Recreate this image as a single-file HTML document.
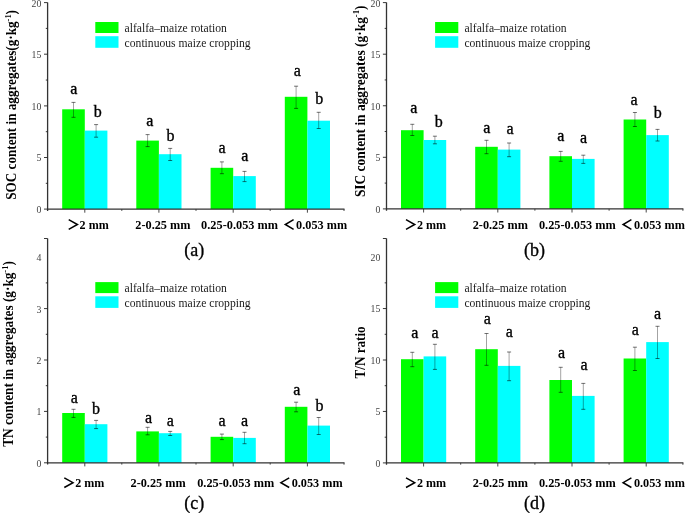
<!DOCTYPE html><html><head><meta charset="utf-8"><style>html,body{margin:0;padding:0;background:#fff;width:685px;height:513px;overflow:hidden}svg{display:block;will-change:transform}text{font-family:"Liberation Serif",serif}</style></head><body>
<svg width="685" height="513" viewBox="0 0 685 513">
<rect width="685" height="513" fill="#fff"/>
<rect x="62.2" y="109.3" width="22.6" height="99.8" fill="#00ff00"/>
<rect x="84.8" y="130.6" width="22.6" height="78.5" fill="#00ffff"/>
<rect x="136.3" y="140.6" width="22.6" height="68.5" fill="#00ff00"/>
<rect x="158.9" y="154.2" width="22.6" height="54.9" fill="#00ffff"/>
<rect x="210.6" y="167.8" width="22.6" height="41.3" fill="#00ff00"/>
<rect x="233.2" y="176.1" width="22.6" height="33" fill="#00ffff"/>
<rect x="284.8" y="96.8" width="22.6" height="112.3" fill="#00ff00"/>
<rect x="307.4" y="120.7" width="22.6" height="88.4" fill="#00ffff"/>
<path d="M73.5 102.4V117.3" stroke="#000" stroke-opacity="0.36" stroke-width="1" fill="none"/><path d="M71.5 102.4H75.5M71.5 117.3H75.5" stroke="#000" stroke-opacity="0.55" stroke-width="1" fill="none"/>
<path d="M96.1 124.6V137.2" stroke="#000" stroke-opacity="0.36" stroke-width="1" fill="none"/><path d="M94.1 124.6H98.1M94.1 137.2H98.1" stroke="#000" stroke-opacity="0.55" stroke-width="1" fill="none"/>
<path d="M147.6 134.6V146.6" stroke="#000" stroke-opacity="0.36" stroke-width="1" fill="none"/><path d="M145.6 134.6H149.6M145.6 146.6H149.6" stroke="#000" stroke-opacity="0.55" stroke-width="1" fill="none"/>
<path d="M170.2 148.4V160.5" stroke="#000" stroke-opacity="0.36" stroke-width="1" fill="none"/><path d="M168.2 148.4H172.2M168.2 160.5H172.2" stroke="#000" stroke-opacity="0.55" stroke-width="1" fill="none"/>
<path d="M221.9 161.9V173.7" stroke="#000" stroke-opacity="0.36" stroke-width="1" fill="none"/><path d="M219.9 161.9H223.9M219.9 173.7H223.9" stroke="#000" stroke-opacity="0.55" stroke-width="1" fill="none"/>
<path d="M244.5 171.4V181.6" stroke="#000" stroke-opacity="0.36" stroke-width="1" fill="none"/><path d="M242.5 171.4H246.5M242.5 181.6H246.5" stroke="#000" stroke-opacity="0.55" stroke-width="1" fill="none"/>
<path d="M296.1 86.2V108.4" stroke="#000" stroke-opacity="0.36" stroke-width="1" fill="none"/><path d="M294.1 86.2H298.1M294.1 108.4H298.1" stroke="#000" stroke-opacity="0.55" stroke-width="1" fill="none"/>
<path d="M318.7 112.3V128.5" stroke="#000" stroke-opacity="0.36" stroke-width="1" fill="none"/><path d="M316.7 112.3H320.7M316.7 128.5H320.7" stroke="#000" stroke-opacity="0.55" stroke-width="1" fill="none"/>
<path d="M47.6 2.6V210.9M46.9 209.1H344.5" stroke="#333" stroke-width="1.3" fill="none"/>
<path d="M44 2.6H47.6M44 54.2H47.6M44 105.9H47.6M44 157.5H47.6M44 209.1H47.6M45.8 28.4H47.6M45.8 80.05H47.6M45.8 131.7H47.6M45.8 183.3H47.6" stroke="#222" stroke-width="0.9" fill="none"/>
<path d="M84.8 209.1V212.7M158.9 209.1V212.7M233.2 209.1V212.7M307.4 209.1V212.7M121.8 209.1V210.9M196 209.1V210.9M270.2 209.1V210.9M344 209.1V211" stroke="#333" stroke-width="0.9" fill="none"/>
<text x="41.4" y="6.5" font-size="9.8" fill="#444" text-anchor="end">20</text>
<text x="41.4" y="58.1" font-size="9.8" fill="#444" text-anchor="end">15</text>
<text x="41.4" y="109.8" font-size="9.8" fill="#444" text-anchor="end">10</text>
<text x="41.4" y="161.4" font-size="9.8" fill="#444" text-anchor="end">5</text>
<text x="41.4" y="213" font-size="9.8" fill="#444" text-anchor="end">0</text>
<text x="73.85" y="93.6" font-size="16" fill="#000" stroke="#000" stroke-width="0.35" text-anchor="middle">a</text>
<text x="97.8" y="117.4" font-size="16" fill="#000" stroke="#000" stroke-width="0.35" text-anchor="middle">b</text>
<text x="149.8" y="126" font-size="16" fill="#000" stroke="#000" stroke-width="0.35" text-anchor="middle">a</text>
<text x="170.6" y="140.6" font-size="16" fill="#000" stroke="#000" stroke-width="0.35" text-anchor="middle">b</text>
<text x="221.95" y="152.8" font-size="16" fill="#000" stroke="#000" stroke-width="0.35" text-anchor="middle">a</text>
<text x="244.8" y="160.7" font-size="16" fill="#000" stroke="#000" stroke-width="0.35" text-anchor="middle">a</text>
<text x="297.2" y="75.7" font-size="16" fill="#000" stroke="#000" stroke-width="0.35" text-anchor="middle">a</text>
<text x="319.35" y="104" font-size="16" fill="#000" stroke="#000" stroke-width="0.35" text-anchor="middle">b</text>
<rect x="95.3" y="22" width="23.2" height="11" fill="#00ff00"/>
<rect x="95.3" y="36.2" width="23.2" height="11.6" fill="#00ffff"/>
<text x="124.6" y="32.1" font-size="11.6" fill="#1a1a1a" textLength="102.2" lengthAdjust="spacingAndGlyphs">alfalfa–maize rotation</text>
<text x="124.6" y="46.5" font-size="11.6" fill="#1a1a1a" textLength="126" lengthAdjust="spacingAndGlyphs">continuous maize cropping</text>
<path d="M68.7 219.7L77.4 224.5L68.7 229.3" stroke="#000" stroke-width="1.5" fill="none"/>
<text x="79.6" y="229" font-size="12" font-weight="bold" fill="#000" textLength="29.2" lengthAdjust="spacingAndGlyphs">2 mm</text>
<text x="135.3" y="229" font-size="12" font-weight="bold" fill="#000" textLength="55.2" lengthAdjust="spacingAndGlyphs">2-0.25 mm</text>
<text x="201.1" y="229" font-size="12" font-weight="bold" fill="#000" textLength="77" lengthAdjust="spacingAndGlyphs">0.25-0.053 mm</text>
<path d="M293.6 219.7L285.3 224.5L293.6 229.3" stroke="#000" stroke-width="1.5" fill="none"/>
<text x="296.1" y="229" font-size="12" font-weight="bold" fill="#000" textLength="51" lengthAdjust="spacingAndGlyphs">0.053 mm</text>
<text x="194.3" y="255.6" font-size="18" fill="#000" stroke="#000" stroke-width="0.3" text-anchor="middle">(a)</text>
<rect x="401" y="130.2" width="22.6" height="78.7" fill="#00ff00"/>
<rect x="423.6" y="140" width="22.6" height="68.9" fill="#00ffff"/>
<rect x="475.2" y="146.8" width="22.6" height="62.1" fill="#00ff00"/>
<rect x="497.8" y="149.6" width="22.6" height="59.3" fill="#00ffff"/>
<rect x="549.4" y="156.2" width="22.6" height="52.7" fill="#00ff00"/>
<rect x="572" y="158.9" width="22.6" height="50" fill="#00ffff"/>
<rect x="623.6" y="119.5" width="22.6" height="89.4" fill="#00ff00"/>
<rect x="646.2" y="135.1" width="22.6" height="73.8" fill="#00ffff"/>
<path d="M412.3 124.3V135.5" stroke="#000" stroke-opacity="0.36" stroke-width="1" fill="none"/><path d="M410.3 124.3H414.3M410.3 135.5H414.3" stroke="#000" stroke-opacity="0.55" stroke-width="1" fill="none"/>
<path d="M434.9 136.2V143.8" stroke="#000" stroke-opacity="0.36" stroke-width="1" fill="none"/><path d="M432.9 136.2H436.9M432.9 143.8H436.9" stroke="#000" stroke-opacity="0.55" stroke-width="1" fill="none"/>
<path d="M486.5 140.3V153.7" stroke="#000" stroke-opacity="0.36" stroke-width="1" fill="none"/><path d="M484.5 140.3H488.5M484.5 153.7H488.5" stroke="#000" stroke-opacity="0.55" stroke-width="1" fill="none"/>
<path d="M509.1 143V156.7" stroke="#000" stroke-opacity="0.36" stroke-width="1" fill="none"/><path d="M507.1 143H511.1M507.1 156.7H511.1" stroke="#000" stroke-opacity="0.55" stroke-width="1" fill="none"/>
<path d="M560.7 151.4V161.3" stroke="#000" stroke-opacity="0.36" stroke-width="1" fill="none"/><path d="M558.7 151.4H562.7M558.7 161.3H562.7" stroke="#000" stroke-opacity="0.55" stroke-width="1" fill="none"/>
<path d="M583.3 155.2V163.4" stroke="#000" stroke-opacity="0.36" stroke-width="1" fill="none"/><path d="M581.3 155.2H585.3M581.3 163.4H585.3" stroke="#000" stroke-opacity="0.55" stroke-width="1" fill="none"/>
<path d="M634.9 112.5V126.5" stroke="#000" stroke-opacity="0.36" stroke-width="1" fill="none"/><path d="M632.9 112.5H636.9M632.9 126.5H636.9" stroke="#000" stroke-opacity="0.55" stroke-width="1" fill="none"/>
<path d="M657.5 129.4V141" stroke="#000" stroke-opacity="0.36" stroke-width="1" fill="none"/><path d="M655.5 129.4H659.5M655.5 141H659.5" stroke="#000" stroke-opacity="0.55" stroke-width="1" fill="none"/>
<path d="M386.5 2.6V210.7M385.8 208.9H683.4" stroke="#333" stroke-width="1.3" fill="none"/>
<path d="M382.9 2.6H386.5M382.9 54.2H386.5M382.9 105.75H386.5M382.9 157.3H386.5M382.9 208.9H386.5M384.7 28.4H386.5M384.7 79.95H386.5M384.7 131.5H386.5M384.7 183.1H386.5" stroke="#222" stroke-width="0.9" fill="none"/>
<path d="M423.6 208.9V212.5M497.8 208.9V212.5M572 208.9V212.5M646.2 208.9V212.5M460.7 208.9V210.7M534.9 208.9V210.7M609.1 208.9V210.7M682.9 208.9V210.8" stroke="#333" stroke-width="0.9" fill="none"/>
<text x="380.3" y="6.5" font-size="9.8" fill="#444" text-anchor="end">20</text>
<text x="380.3" y="58.1" font-size="9.8" fill="#444" text-anchor="end">15</text>
<text x="380.3" y="109.65" font-size="9.8" fill="#444" text-anchor="end">10</text>
<text x="380.3" y="161.2" font-size="9.8" fill="#444" text-anchor="end">5</text>
<text x="380.3" y="212.8" font-size="9.8" fill="#444" text-anchor="end">0</text>
<text x="413.7" y="112.7" font-size="16" fill="#000" stroke="#000" stroke-width="0.35" text-anchor="middle">a</text>
<text x="438.65" y="126.7" font-size="16" fill="#000" stroke="#000" stroke-width="0.35" text-anchor="middle">b</text>
<text x="486.85" y="132.9" font-size="16" fill="#000" stroke="#000" stroke-width="0.35" text-anchor="middle">a</text>
<text x="510.15" y="134.2" font-size="16" fill="#000" stroke="#000" stroke-width="0.35" text-anchor="middle">a</text>
<text x="560.9" y="140.7" font-size="16" fill="#000" stroke="#000" stroke-width="0.35" text-anchor="middle">a</text>
<text x="583.55" y="142.8" font-size="16" fill="#000" stroke="#000" stroke-width="0.35" text-anchor="middle">a</text>
<text x="634.15" y="104.5" font-size="16" fill="#000" stroke="#000" stroke-width="0.35" text-anchor="middle">a</text>
<text x="657.7" y="117.9" font-size="16" fill="#000" stroke="#000" stroke-width="0.35" text-anchor="middle">b</text>
<rect x="435.1" y="22" width="23.2" height="11" fill="#00ff00"/>
<rect x="435.1" y="36.2" width="23.2" height="11.6" fill="#00ffff"/>
<text x="464.4" y="32.1" font-size="11.6" fill="#1a1a1a" textLength="102.2" lengthAdjust="spacingAndGlyphs">alfalfa–maize rotation</text>
<text x="464.4" y="46.5" font-size="11.6" fill="#1a1a1a" textLength="126" lengthAdjust="spacingAndGlyphs">continuous maize cropping</text>
<path d="M406 219.7L414.7 224.5L406 229.3" stroke="#000" stroke-width="1.5" fill="none"/>
<text x="416.9" y="229" font-size="12" font-weight="bold" fill="#000" textLength="29.2" lengthAdjust="spacingAndGlyphs">2 mm</text>
<text x="472.7" y="229" font-size="12" font-weight="bold" fill="#000" textLength="55.2" lengthAdjust="spacingAndGlyphs">2-0.25 mm</text>
<text x="538.9" y="229" font-size="12" font-weight="bold" fill="#000" textLength="77" lengthAdjust="spacingAndGlyphs">0.25-0.053 mm</text>
<path d="M631.4 219.7L623.1 224.5L631.4 229.3" stroke="#000" stroke-width="1.5" fill="none"/>
<text x="633.9" y="229" font-size="12" font-weight="bold" fill="#000" textLength="51" lengthAdjust="spacingAndGlyphs">0.053 mm</text>
<text x="534.6" y="255.6" font-size="18" fill="#000" stroke="#000" stroke-width="0.3" text-anchor="middle">(b)</text>
<rect x="62.2" y="413" width="22.6" height="49.8" fill="#00ff00"/>
<rect x="84.8" y="424.2" width="22.6" height="38.6" fill="#00ffff"/>
<rect x="136.3" y="431.4" width="22.6" height="31.4" fill="#00ff00"/>
<rect x="158.9" y="433.2" width="22.6" height="29.6" fill="#00ffff"/>
<rect x="210.6" y="436.8" width="22.6" height="26" fill="#00ff00"/>
<rect x="233.2" y="437.9" width="22.6" height="24.9" fill="#00ffff"/>
<rect x="284.8" y="406.8" width="22.6" height="56" fill="#00ff00"/>
<rect x="307.4" y="425.6" width="22.6" height="37.2" fill="#00ffff"/>
<path d="M73.5 409.3V417.4" stroke="#000" stroke-opacity="0.36" stroke-width="1" fill="none"/><path d="M71.5 409.3H75.5M71.5 417.4H75.5" stroke="#000" stroke-opacity="0.55" stroke-width="1" fill="none"/>
<path d="M96.1 420.4V428.6" stroke="#000" stroke-opacity="0.36" stroke-width="1" fill="none"/><path d="M94.1 420.4H98.1M94.1 428.6H98.1" stroke="#000" stroke-opacity="0.55" stroke-width="1" fill="none"/>
<path d="M147.6 427.3V434.8" stroke="#000" stroke-opacity="0.36" stroke-width="1" fill="none"/><path d="M145.6 427.3H149.6M145.6 434.8H149.6" stroke="#000" stroke-opacity="0.55" stroke-width="1" fill="none"/>
<path d="M170.2 431.4V435.5" stroke="#000" stroke-opacity="0.36" stroke-width="1" fill="none"/><path d="M168.2 431.4H172.2M168.2 435.5H172.2" stroke="#000" stroke-opacity="0.55" stroke-width="1" fill="none"/>
<path d="M221.9 434.1V439.6" stroke="#000" stroke-opacity="0.36" stroke-width="1" fill="none"/><path d="M219.9 434.1H223.9M219.9 439.6H223.9" stroke="#000" stroke-opacity="0.55" stroke-width="1" fill="none"/>
<path d="M244.5 432.3V443.7" stroke="#000" stroke-opacity="0.36" stroke-width="1" fill="none"/><path d="M242.5 432.3H246.5M242.5 443.7H246.5" stroke="#000" stroke-opacity="0.55" stroke-width="1" fill="none"/>
<path d="M296.1 402.2V411.8" stroke="#000" stroke-opacity="0.36" stroke-width="1" fill="none"/><path d="M294.1 402.2H298.1M294.1 411.8H298.1" stroke="#000" stroke-opacity="0.55" stroke-width="1" fill="none"/>
<path d="M318.7 417.5V434.5" stroke="#000" stroke-opacity="0.36" stroke-width="1" fill="none"/><path d="M316.7 417.5H320.7M316.7 434.5H320.7" stroke="#000" stroke-opacity="0.55" stroke-width="1" fill="none"/>
<path d="M47.6 238.5V464.6M46.9 462.8H344.5" stroke="#333" stroke-width="1.3" fill="none"/>
<path d="M44 238.5H47.6M44 308.6H47.6M44 360H47.6M44 411.4H47.6M44 462.8H47.6M45.8 282.9H47.6M45.8 334.3H47.6M45.8 385.7H47.6M45.8 437.1H47.6" stroke="#222" stroke-width="0.9" fill="none"/>
<path d="M84.8 462.8V466.4M158.9 462.8V466.4M233.2 462.8V466.4M307.4 462.8V466.4M121.8 462.8V464.6M196 462.8V464.6M270.2 462.8V464.6M344 462.8V464.7" stroke="#333" stroke-width="0.9" fill="none"/>
<text x="41.4" y="261.1" font-size="9.8" fill="#444" text-anchor="end">4</text>
<text x="41.4" y="312.5" font-size="9.8" fill="#444" text-anchor="end">3</text>
<text x="41.4" y="363.9" font-size="9.8" fill="#444" text-anchor="end">2</text>
<text x="41.4" y="415.3" font-size="9.8" fill="#444" text-anchor="end">1</text>
<text x="41.4" y="466.7" font-size="9.8" fill="#444" text-anchor="end">0</text>
<text x="74.3" y="403.2" font-size="16" fill="#000" stroke="#000" stroke-width="0.35" text-anchor="middle">a</text>
<text x="95.95" y="414" font-size="16" fill="#000" stroke="#000" stroke-width="0.35" text-anchor="middle">b</text>
<text x="148.6" y="422.5" font-size="16" fill="#000" stroke="#000" stroke-width="0.35" text-anchor="middle">a</text>
<text x="170.4" y="425.5" font-size="16" fill="#000" stroke="#000" stroke-width="0.35" text-anchor="middle">a</text>
<text x="222" y="425.5" font-size="16" fill="#000" stroke="#000" stroke-width="0.35" text-anchor="middle">a</text>
<text x="244.6" y="425.5" font-size="16" fill="#000" stroke="#000" stroke-width="0.35" text-anchor="middle">a</text>
<text x="296.7" y="394.6" font-size="16" fill="#000" stroke="#000" stroke-width="0.35" text-anchor="middle">a</text>
<text x="319.45" y="410.7" font-size="16" fill="#000" stroke="#000" stroke-width="0.35" text-anchor="middle">b</text>
<rect x="95.3" y="282.1" width="23.2" height="11" fill="#00ff00"/>
<rect x="95.3" y="296.3" width="23.2" height="11.6" fill="#00ffff"/>
<text x="124.6" y="292.2" font-size="11.6" fill="#1a1a1a" textLength="102.2" lengthAdjust="spacingAndGlyphs">alfalfa–maize rotation</text>
<text x="124.6" y="306.6" font-size="11.6" fill="#1a1a1a" textLength="126" lengthAdjust="spacingAndGlyphs">continuous maize cropping</text>
<path d="M64.3 477.9L73 482.7L64.3 487.5" stroke="#000" stroke-width="1.5" fill="none"/>
<text x="75.2" y="487.2" font-size="12" font-weight="bold" fill="#000" textLength="29.2" lengthAdjust="spacingAndGlyphs">2 mm</text>
<text x="130.5" y="487.2" font-size="12" font-weight="bold" fill="#000" textLength="55.2" lengthAdjust="spacingAndGlyphs">2-0.25 mm</text>
<text x="197.2" y="487.2" font-size="12" font-weight="bold" fill="#000" textLength="77" lengthAdjust="spacingAndGlyphs">0.25-0.053 mm</text>
<path d="M289.2 477.9L280.9 482.7L289.2 487.5" stroke="#000" stroke-width="1.5" fill="none"/>
<text x="291.7" y="487.2" font-size="12" font-weight="bold" fill="#000" textLength="51" lengthAdjust="spacingAndGlyphs">0.053 mm</text>
<text x="194.2" y="509" font-size="18" fill="#000" stroke="#000" stroke-width="0.3" text-anchor="middle">(c)</text>
<rect x="401" y="359.2" width="22.6" height="103.7" fill="#00ff00"/>
<rect x="423.6" y="356.4" width="22.6" height="106.5" fill="#00ffff"/>
<rect x="475.2" y="349.2" width="22.6" height="113.7" fill="#00ff00"/>
<rect x="497.8" y="365.9" width="22.6" height="97" fill="#00ffff"/>
<rect x="549.4" y="380" width="22.6" height="82.9" fill="#00ff00"/>
<rect x="572" y="395.9" width="22.6" height="67" fill="#00ffff"/>
<rect x="623.6" y="358.5" width="22.6" height="104.4" fill="#00ff00"/>
<rect x="646.2" y="342.1" width="22.6" height="120.8" fill="#00ffff"/>
<path d="M412.3 352.3V366.7" stroke="#000" stroke-opacity="0.36" stroke-width="1" fill="none"/><path d="M410.3 352.3H414.3M410.3 366.7H414.3" stroke="#000" stroke-opacity="0.55" stroke-width="1" fill="none"/>
<path d="M434.9 344.3V369.4" stroke="#000" stroke-opacity="0.36" stroke-width="1" fill="none"/><path d="M432.9 344.3H436.9M432.9 369.4H436.9" stroke="#000" stroke-opacity="0.55" stroke-width="1" fill="none"/>
<path d="M486.5 333.5V365.3" stroke="#000" stroke-opacity="0.36" stroke-width="1" fill="none"/><path d="M484.5 333.5H488.5M484.5 365.3H488.5" stroke="#000" stroke-opacity="0.55" stroke-width="1" fill="none"/>
<path d="M509.1 352V380.7" stroke="#000" stroke-opacity="0.36" stroke-width="1" fill="none"/><path d="M507.1 352H511.1M507.1 380.7H511.1" stroke="#000" stroke-opacity="0.55" stroke-width="1" fill="none"/>
<path d="M560.7 367.3V392.3" stroke="#000" stroke-opacity="0.36" stroke-width="1" fill="none"/><path d="M558.7 367.3H562.7M558.7 392.3H562.7" stroke="#000" stroke-opacity="0.55" stroke-width="1" fill="none"/>
<path d="M583.3 383.4V409.3" stroke="#000" stroke-opacity="0.36" stroke-width="1" fill="none"/><path d="M581.3 383.4H585.3M581.3 409.3H585.3" stroke="#000" stroke-opacity="0.55" stroke-width="1" fill="none"/>
<path d="M634.9 347.2V370.5" stroke="#000" stroke-opacity="0.36" stroke-width="1" fill="none"/><path d="M632.9 347.2H636.9M632.9 370.5H636.9" stroke="#000" stroke-opacity="0.55" stroke-width="1" fill="none"/>
<path d="M657.5 326.3V358.5" stroke="#000" stroke-opacity="0.36" stroke-width="1" fill="none"/><path d="M655.5 326.3H659.5M655.5 358.5H659.5" stroke="#000" stroke-opacity="0.55" stroke-width="1" fill="none"/>
<path d="M386.5 238.5V464.7M385.8 462.9H683.4" stroke="#333" stroke-width="1.3" fill="none"/>
<path d="M382.9 238.5H386.5M382.9 308.55H386.5M382.9 360H386.5M382.9 411.45H386.5M382.9 462.9H386.5M384.7 282.85H386.5M384.7 334.3H386.5M384.7 385.7H386.5M384.7 437.2H386.5" stroke="#222" stroke-width="0.9" fill="none"/>
<path d="M423.6 462.9V466.5M497.8 462.9V466.5M572 462.9V466.5M646.2 462.9V466.5M460.7 462.9V464.7M534.9 462.9V464.7M609.1 462.9V464.7M682.9 462.9V464.8" stroke="#333" stroke-width="0.9" fill="none"/>
<text x="380.3" y="261" font-size="9.8" fill="#444" text-anchor="end">20</text>
<text x="380.3" y="312.45" font-size="9.8" fill="#444" text-anchor="end">15</text>
<text x="380.3" y="363.9" font-size="9.8" fill="#444" text-anchor="end">10</text>
<text x="380.3" y="415.35" font-size="9.8" fill="#444" text-anchor="end">5</text>
<text x="380.3" y="466.8" font-size="9.8" fill="#444" text-anchor="end">0</text>
<text x="414.8" y="337.8" font-size="16" fill="#000" stroke="#000" stroke-width="0.35" text-anchor="middle">a</text>
<text x="435.15" y="337.8" font-size="16" fill="#000" stroke="#000" stroke-width="0.35" text-anchor="middle">a</text>
<text x="487.35" y="323.9" font-size="16" fill="#000" stroke="#000" stroke-width="0.35" text-anchor="middle">a</text>
<text x="509.35" y="336.7" font-size="16" fill="#000" stroke="#000" stroke-width="0.35" text-anchor="middle">a</text>
<text x="561.45" y="357.6" font-size="16" fill="#000" stroke="#000" stroke-width="0.35" text-anchor="middle">a</text>
<text x="584.1" y="369.6" font-size="16" fill="#000" stroke="#000" stroke-width="0.35" text-anchor="middle">a</text>
<text x="635.35" y="334.7" font-size="16" fill="#000" stroke="#000" stroke-width="0.35" text-anchor="middle">a</text>
<text x="657.55" y="318.9" font-size="16" fill="#000" stroke="#000" stroke-width="0.35" text-anchor="middle">a</text>
<rect x="435.1" y="282.1" width="23.2" height="11" fill="#00ff00"/>
<rect x="435.1" y="296.3" width="23.2" height="11.6" fill="#00ffff"/>
<text x="464.4" y="292.2" font-size="11.6" fill="#1a1a1a" textLength="102.2" lengthAdjust="spacingAndGlyphs">alfalfa–maize rotation</text>
<text x="464.4" y="306.6" font-size="11.6" fill="#1a1a1a" textLength="126" lengthAdjust="spacingAndGlyphs">continuous maize cropping</text>
<path d="M406 477.9L414.7 482.7L406 487.5" stroke="#000" stroke-width="1.5" fill="none"/>
<text x="416.9" y="487.2" font-size="12" font-weight="bold" fill="#000" textLength="29.2" lengthAdjust="spacingAndGlyphs">2 mm</text>
<text x="472.7" y="487.2" font-size="12" font-weight="bold" fill="#000" textLength="55.2" lengthAdjust="spacingAndGlyphs">2-0.25 mm</text>
<text x="538.9" y="487.2" font-size="12" font-weight="bold" fill="#000" textLength="77" lengthAdjust="spacingAndGlyphs">0.25-0.053 mm</text>
<path d="M631.4 477.9L623.1 482.7L631.4 487.5" stroke="#000" stroke-width="1.5" fill="none"/>
<text x="633.9" y="487.2" font-size="12" font-weight="bold" fill="#000" textLength="51" lengthAdjust="spacingAndGlyphs">0.053 mm</text>
<text x="534.6" y="509" font-size="18" fill="#000" stroke="#000" stroke-width="0.3" text-anchor="middle">(d)</text>
<text transform="translate(16.3 199.7) rotate(-90)" font-size="14" font-weight="bold" fill="#000" textLength="189.7" lengthAdjust="spacingAndGlyphs">SOC content in aggregates(g·kg<tspan font-size="9" dy="-5.5">-1</tspan><tspan dy="5.5">)</tspan></text>
<text transform="translate(364.7 197.1) rotate(-90)" font-size="14" font-weight="bold" fill="#000" textLength="191.6" lengthAdjust="spacingAndGlyphs">SIC content in aggregates (g·kg<tspan font-size="9" dy="-5.5">-1</tspan><tspan dy="5.5">)</tspan></text>
<text transform="translate(13 446.8) rotate(-90)" font-size="14" font-weight="bold" fill="#000" textLength="185.7" lengthAdjust="spacingAndGlyphs">TN content in aggregates (g·kg<tspan font-size="9" dy="-5.5">-1</tspan><tspan dy="5.5">)</tspan></text>
<text transform="translate(364.9 378.4) rotate(-90)" font-size="14" font-weight="bold" fill="#000" textLength="52" lengthAdjust="spacingAndGlyphs">T/N ratio</text>
</svg></body></html>
